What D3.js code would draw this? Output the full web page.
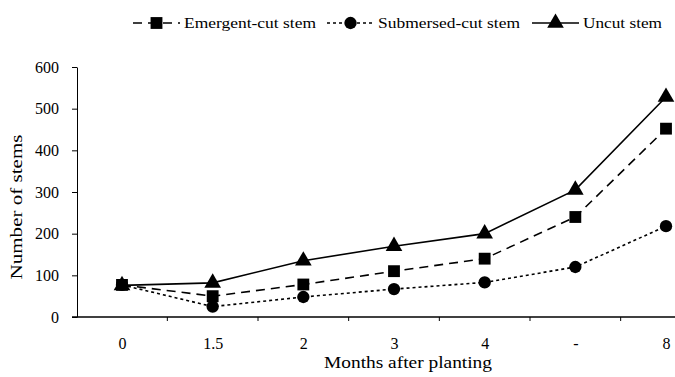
<!DOCTYPE html>
<html>
<head>
<meta charset="utf-8">
<script src="https://cdn.jsdelivr.net/npm/d3@7"></script>
<style>
  body { margin: 0; background: #fff; }
  text { font-family: "Liberation Serif", "DejaVu Serif", serif; fill: #000; }
</style>
</head>
<body>
<div id="chart"></div>
<script>
// months after planting (labels as printed)
const months = ["0", "1.5", "2", "3", "4", "-", "8"];
const emergent = [77, 50, 78, 110, 140, 240, 452];
const submersed = [77, 25, 48, 67, 83, 120, 218];
const uncut = [76, 82, 135, 170, 200, 305, 528];
const yTicks = [0, 100, 200, 300, 400, 500, 600];

const width = 675, height = 377;
const margin = {top: 67, right: 0, bottom: 60, left: 77};

const svg = d3.select('#chart').append('svg')
  .attr('width', width)
  .attr('height', height);

const x = d3.scalePoint()
  .domain(months)
  .range([122, 666]);

const y = d3.scaleLinear()
  .domain([0, 600])
  .range([height - margin.bottom, margin.top]);

// y axis
const yAxis = d3.axisLeft(y).tickValues(yTicks).tickSize(5).tickPadding(13).tickSizeOuter(0);
const gy = svg.append('g')
  .attr('transform', `translate(${margin.left},0)`)
  .call(yAxis);
gy.selectAll('text').style('font-size', '16px');
gy.selectAll('line, path').attr('stroke', '#000');

// x axis: ticks between categories
const xAxis = d3.axisBottom(x).tickSize(0).tickPadding(21);
const gx = svg.append('g')
  .attr('transform', `translate(0,${y(0)})`)
  .call(xAxis);
gx.select('.domain').remove();
gx.append('line')
  .attr('x1', margin.left - 5).attr('x2', width)
  .attr('stroke', '#000').attr('stroke-width', 1.3);
gx.selectAll('text').style('font-size', '16px');
gx.selectAll('.sep')
  .data(months.slice(1))
  .join('line')
  .attr('class', 'sep')
  .attr('x1', (d, i) => (x(d) + x(months[i])) / 2)
  .attr('x2', (d, i) => (x(d) + x(months[i])) / 2)
  .attr('y1', 0).attr('y2', 4)
  .attr('stroke', '#000');

// axis titles
svg.append('text')
  .attr('x', 408)
  .attr('y', 368)
  .attr('text-anchor', 'middle')
  .attr('textLength', 168)
  .attr('lengthAdjust', 'spacingAndGlyphs')
  .style('font-size', '16px')
  .text('Months after planting');

svg.append('text')
  .attr('transform', `translate(22,207) rotate(-90)`)
  .attr('text-anchor', 'middle')
  .attr('textLength', 145)
  .attr('lengthAdjust', 'spacingAndGlyphs')
  .style('font-size', '16px')
  .text('Number of stems');

const series = [
  {name: 'Emergent-cut stem', values: emergent, dash: '9,6', symbol: d3.symbolSquare, size: 140, len: 132},
  {name: 'Submersed-cut stem', values: submersed, dash: '3,3', symbol: d3.symbolCircle, size: 120, len: 142},
  {name: 'Uncut stem', values: uncut, dash: null, symbol: d3.symbolTriangle, size: 120, len: 79}
];

const line = d3.line()
  .x((d, i) => x(months[i]))
  .y(d => y(d));

series.forEach(s => {
  svg.append('path')
    .datum(s.values)
    .attr('d', line)
    .attr('fill', 'none')
    .attr('stroke', '#000')
    .attr('stroke-width', 1.6)
    .attr('stroke-dasharray', s.dash);
  svg.selectAll(null)
    .data(s.values)
    .join('path')
    .attr('transform', (d, i) => `translate(${x(months[i])},${y(d)})`)
    .attr('d', d3.symbol().type(s.symbol).size(s.size))
    .attr('fill', '#000');
});

// legend
const legendX = [133, 327, 532];
const lg = svg.append('g').attr('transform', 'translate(0,23)');
series.forEach((s, i) => {
  const g = lg.append('g').attr('transform', `translate(${legendX[i]},0)`);
  g.append('line')
    .attr('x1', 0).attr('x2', 47)
    .attr('stroke', '#000')
    .attr('stroke-width', 1.6)
    .attr('stroke-dasharray', s.dash);
  g.append('path')
    .attr('transform', 'translate(23.5,0)')
    .attr('d', d3.symbol().type(s.symbol).size(s.size))
    .attr('fill', '#000');
  g.append('text')
    .attr('x', 51)
    .attr('y', 5)
    .attr('textLength', s.len)
    .attr('lengthAdjust', 'spacingAndGlyphs')
    .style('font-size', '15px')
    .text(s.name);
});
</script>
</body>
</html>
